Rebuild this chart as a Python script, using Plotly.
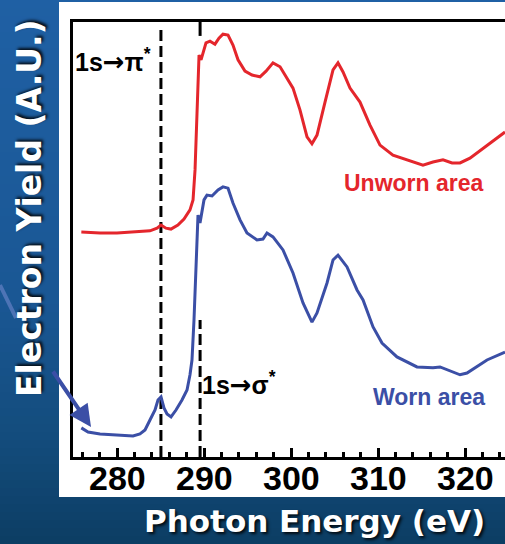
import plotly.graph_objects as go

# ---- spectra: photon energy (eV) and electron yield (arbitrary units) ----
unworn_energy = [275.9, 278.05, 280.0, 282.07, 283.79, 284.6, 285.06, 285.63, 286.2, 287.0,
                 287.7, 288.39, 288.74, 288.97, 289.2, 289.43, 289.66, 289.89, 290.23, 290.69,
                 291.26, 291.72, 292.18, 292.76, 293.33, 293.91, 294.71, 295.52, 296.44, 297.13,
                 297.93, 298.74, 299.54, 300.23, 301.03, 301.84, 302.41, 302.99, 303.91, 304.83,
                 305.4, 305.98, 306.78, 307.93, 309.08, 310.23, 311.72, 313.68, 315.17, 316.32,
                 317.47, 318.51, 319.43, 320.57, 322.3, 324.6]
unworn_yield = [51.7, 51.5, 51.5, 51.7, 52.0, 52.6, 53.3, 52.6, 52.4, 53.3,
                54.7, 56.8, 59.1, 66.0, 79.8, 92.4, 91.3, 93.1, 95.2, 95.6,
                94.9, 96.3, 97.2, 97.0, 94.7, 91.3, 88.7, 87.8, 87.4, 88.7,
                90.6, 89.7, 87.1, 84.8, 79.8, 73.6, 72.0, 74.0, 81.6, 89.0,
                90.6, 88.5, 84.8, 81.6, 76.3, 71.7, 69.4, 68.0, 67.1, 67.8,
                68.3, 67.6, 67.6, 68.7, 71.3, 74.7]

worn_energy = [275.9, 276.67, 278.05, 280.0, 281.84, 282.64, 283.22, 283.79, 284.37, 284.71,
               285.06, 285.4, 285.75, 286.21, 286.78, 287.47, 288.05, 288.39, 288.62, 288.85,
               289.08, 289.31, 289.54, 289.77, 290.0, 290.34, 290.92, 291.61, 292.18, 292.76,
               293.33, 294.14, 294.94, 296.09, 296.78, 297.24, 297.93, 299.08, 300.23, 301.38,
               302.41, 302.99, 304.14, 304.83, 305.4, 306.44, 307.59, 308.28, 309.43, 310.46,
               312.18, 314.48, 316.32, 317.13, 319.43, 320.23, 322.53, 324.6]
worn_yield = [6.7, 5.75, 5.3, 5.06, 4.83, 5.3, 6.2, 8.5, 10.8, 13.1,
              13.8, 11.3, 9.9, 9.2, 10.8, 13.1, 15.4, 18.9, 22.3, 31.5,
              45.3, 55.6, 53.8, 56.8, 59.1, 60.2, 60.0, 61.4, 62.1, 61.8,
              58.4, 54.5, 51.5, 49.9, 50.1, 51.5, 50.6, 47.6, 42.3, 35.4,
              31.0, 33.1, 40.0, 45.3, 46.4, 43.7, 38.4, 36.1, 29.9, 26.2,
              23.0, 20.7, 20.5, 20.7, 18.9, 19.3, 22.3, 24.1]

# transition markers (eV)
pi_star_energy = 285.05
sigma_star_energy = 289.55

x_tick_values = [280, 290, 300, 310, 320]
x_tick_labels = ["280", "290", "300", "310", "320"]

W, H = 505, 544
RED = "#e4262c"
BLUE = "#3b4fa6"


def px(x):
    return x / W


def py(y):
    return 1 - y / H


fig = go.Figure()
fig.add_trace(go.Scatter(x=unworn_energy, y=unworn_yield, mode="lines",
                         line=dict(color=RED, width=3), hoverinfo="skip"))
fig.add_trace(go.Scatter(x=worn_energy, y=worn_yield, mode="lines",
                         line=dict(color=BLUE, width=3), hoverinfo="skip"))

shapes = []

# slide background: vertical blue gradient
stops = [(0, (31, 96, 164)), (300, (26, 87, 148)), (440, (19, 76, 124)), (544, (12, 61, 99))]
band = 8
for y0 in range(0, H, band):
    yc = y0 + band / 2
    for (a, ca), (b, cb) in zip(stops[:-1], stops[1:]):
        if a <= yc <= b:
            t = (yc - a) / (b - a)
            c = tuple(int(round(ca[i] + (cb[i] - ca[i]) * t)) for i in range(3))
            break
    shapes.append(dict(type="rect", xref="paper", yref="paper", layer="below",
                       x0=0, x1=1, y0=py(y0 + band + 1), y1=py(y0),
                       fillcolor="rgb(%d,%d,%d)" % c, line=dict(width=0)))

# white chart panel
shapes.append(dict(type="rect", xref="paper", yref="paper", layer="below",
                   x0=px(59), x1=1, y0=py(497), y1=py(2),
                   fillcolor="white", line=dict(width=0)))

# faint tail of the pointer arrow behind the axis title
shapes.append(dict(type="line", xref="paper", yref="paper", layer="above",
                   x0=px(0), y0=py(285), x1=px(16), y1=py(318),
                   line=dict(color="rgba(120,140,210,0.55)", width=4)))

# dashed transition lines
dash = "11px,5px"
shapes.append(dict(type="line", xref="x", yref="y", layer="below",
                   x0=pi_star_energy, x1=pi_star_energy, y0=0, y1=98.9,
                   line=dict(color="black", width=3, dash=dash)))
shapes.append(dict(type="line", xref="x", yref="y", layer="below",
                   x0=sigma_star_energy, x1=sigma_star_energy, y0=96.8, y1=100,
                   line=dict(color="black", width=3)))
shapes.append(dict(type="line", xref="x", yref="y", layer="below",
                   x0=sigma_star_energy, x1=sigma_star_energy, y0=0, y1=31.5,
                   line=dict(color="black", width=3, dash=dash)))

shadow = "2px 2px 3px rgba(0,0,0,0.85)"
label_font = dict(family="Liberation Sans", size=25, color="black", weight="bold")
ARROW = "<span style='font-family:DejaVu Sans;font-size:26px'>→</span>"

annotations = [
    # pointer arrow to the worn-area curve
    dict(xref="paper", yref="paper", x=px(91), y=py(427), ax=-39, ay=-57,
         axref="pixel", ayref="pixel", text="", showarrow=True,
         arrowhead=2, arrowsize=1.1, arrowwidth=4, arrowcolor=BLUE),
    dict(xref="paper", yref="paper", x=px(29), y=py(208), text="Electron Yield (A.U.)",
         textangle=-90, showarrow=False,
         font=dict(family="DejaVu Sans", size=33, color="white", weight="bold", shadow=shadow),
         xanchor="center", yanchor="middle"),
    dict(xref="paper", yref="paper", x=px(314), y=py(521), text="Photon Energy (eV)",
         showarrow=False,
         font=dict(family="DejaVu Sans", size=31, color="white", weight="bold", shadow=shadow),
         xanchor="center", yanchor="middle"),
    dict(xref="paper", yref="paper", x=px(73), y=py(60), text="1s" + ARROW + "π<sup>*</sup>",
         showarrow=False, font=label_font, xanchor="left", yanchor="middle"),
    dict(xref="paper", yref="paper", x=px(200), y=py(383), text="1s" + ARROW + "σ<sup>*</sup>",
         showarrow=False, font=label_font, xanchor="left", yanchor="middle"),
    dict(xref="paper", yref="paper", x=px(414), y=py(183), text="Unworn area",
         showarrow=False, xanchor="center", yanchor="middle",
         font=dict(family="Liberation Sans", size=23, color=RED, weight="bold")),
    dict(xref="paper", yref="paper", x=px(429), y=py(397), text="Worn area",
         showarrow=False, xanchor="center", yanchor="middle",
         font=dict(family="Liberation Sans", size=23, color=BLUE, weight="bold")),
]

# x tick labels, set just under the axis
for v, t in zip(x_tick_values, x_tick_labels):
    annotations.append(dict(xref="x", yref="paper", x=v, y=py(478), text=t,
                            showarrow=False, xanchor="center", yanchor="middle",
                            font=dict(family="Liberation Sans", size=34, color="black",
                                      weight="bold")))

x_left = 280 - (117 - 73) / 8.7
x_right = 280 + (505 - 117) / 8.7

fig.update_layout(
    width=W, height=H,
    margin=dict(l=0, r=0, t=0, b=0),
    paper_bgcolor="rgb(26,87,148)",
    plot_bgcolor="white",
    showlegend=False,
    shapes=shapes,
    annotations=annotations,
    xaxis=dict(
        domain=[px(73), 1], range=[x_left, x_right],
        showgrid=False, zeroline=False, showticklabels=False,
        showline=True, linecolor="black", linewidth=3, mirror=True,
        ticks="inside", ticklen=9, tickwidth=3, tickcolor="black",
        tickvals=x_tick_values,
        minor=dict(ticks="inside", ticklen=5, tickwidth=3, tickcolor="black",
                   dtick=2, tick0=280),
    ),
    yaxis=dict(
        domain=[py(457), py(22)], range=[0, 100],
        showgrid=False, zeroline=False, showticklabels=False,
        showline=True, linecolor="black", linewidth=3, ticks="",
    ),
)

fig.write_html("out.html")
